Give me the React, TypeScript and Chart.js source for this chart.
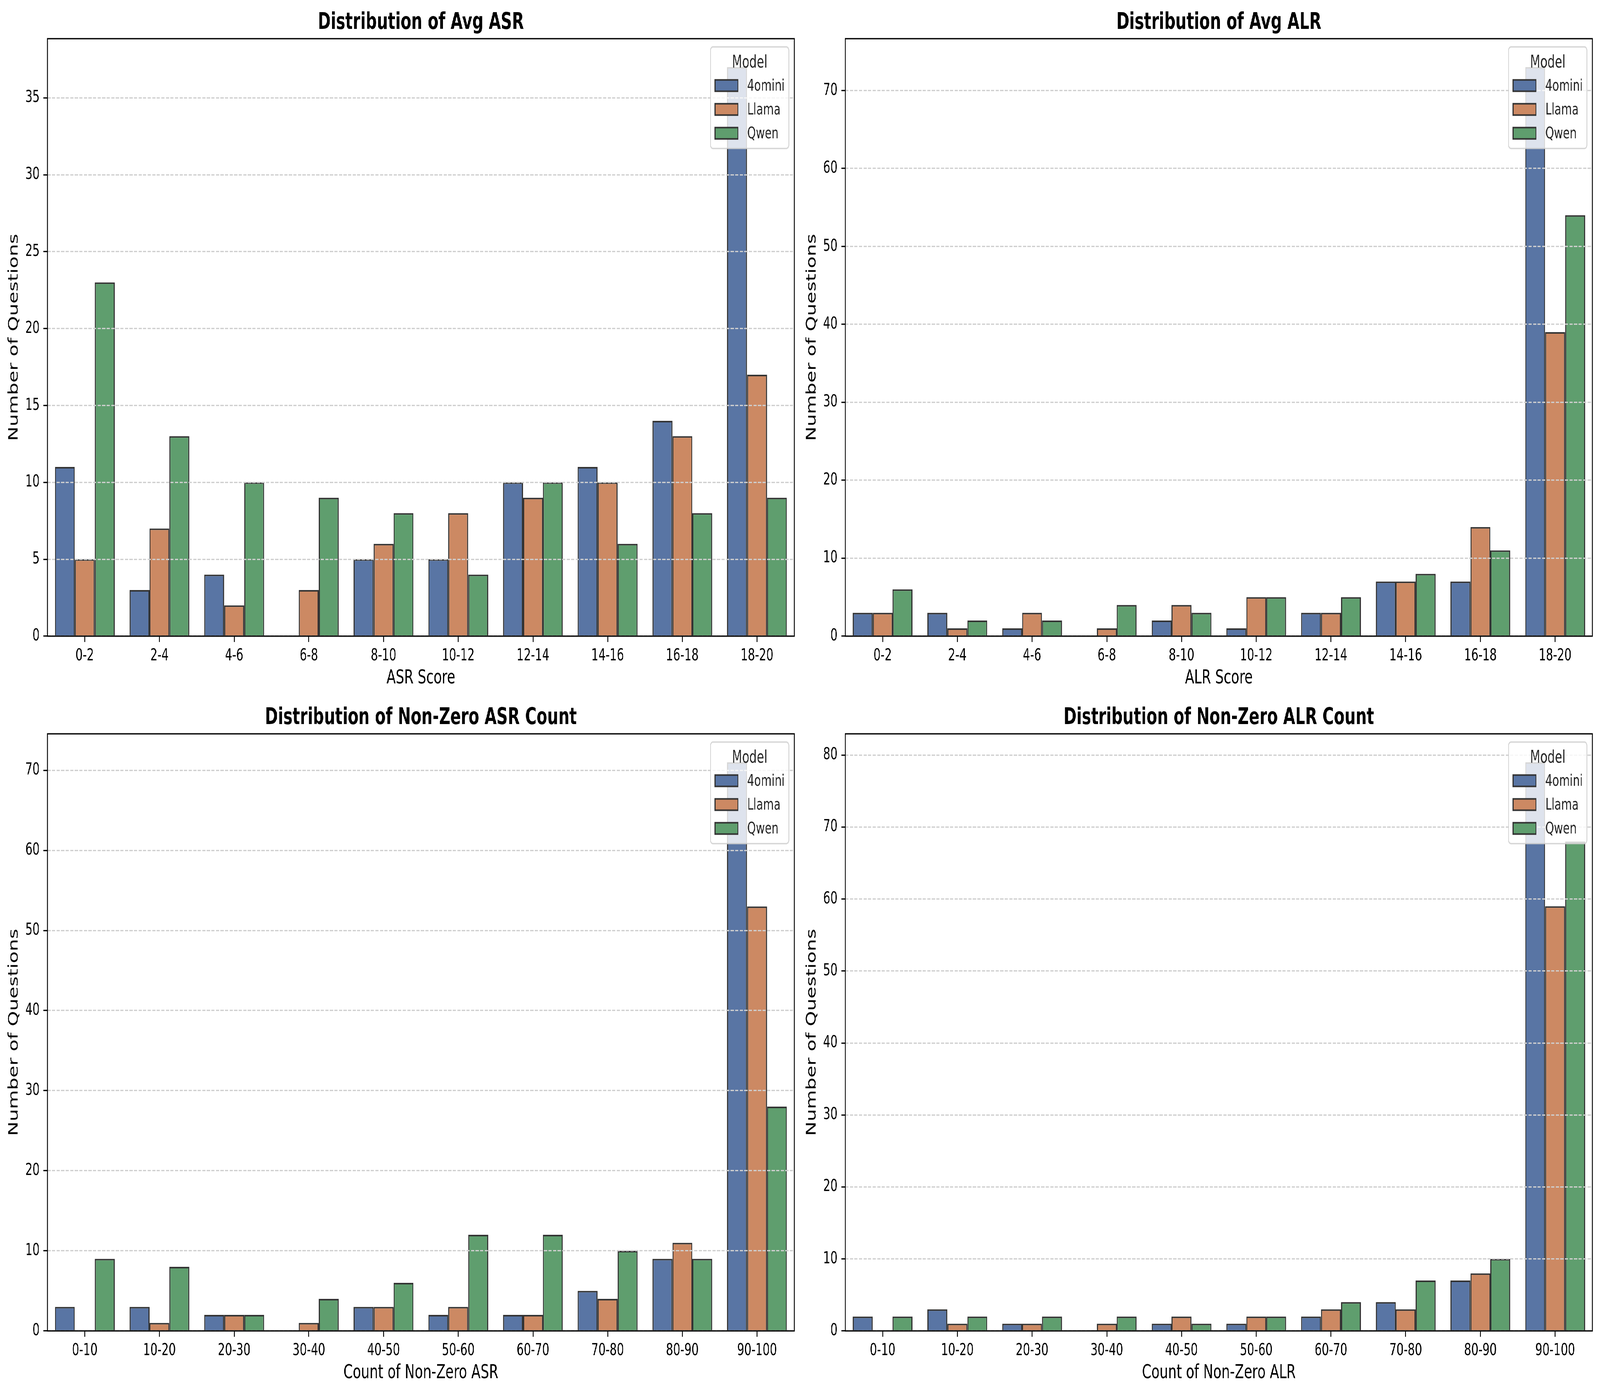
import React, { useEffect, useRef } from "react";
import { Chart, registerables } from "chart.js";

Chart.register(...registerables);

const FONT = '"DejaVu Sans", "Liberation Sans", sans-serif';

const MODELS = ["4omini", "Llama", "Qwen"];
const COLORS = ["#5975a4", "#cc8963", "#5f9e6e"];
const EDGE = "#333333";

const SCORE_BINS = ["0-2", "2-4", "4-6", "6-8", "8-10", "10-12", "12-14", "14-16", "16-18", "18-20"];
const COUNT_BINS = ["0-10", "10-20", "20-30", "30-40", "40-50", "50-60", "60-70", "70-80", "80-90", "90-100"];

// Distribution of Avg ASR
const avgAsr4omini = [11, 3, 4, 0, 5, 5, 10, 11, 14, 37];
const avgAsrLlama = [5, 7, 2, 3, 6, 8, 9, 10, 13, 17];
const avgAsrQwen = [23, 13, 10, 9, 8, 4, 10, 6, 8, 9];

// Distribution of Avg ALR
const avgAlr4omini = [3, 3, 1, 0, 2, 1, 3, 7, 7, 73];
const avgAlrLlama = [3, 1, 3, 1, 4, 5, 3, 7, 14, 39];
const avgAlrQwen = [6, 2, 2, 4, 3, 5, 5, 8, 11, 54];

// Distribution of Non-Zero ASR Count
const nzAsr4omini = [3, 3, 2, 0, 3, 2, 2, 5, 9, 71];
const nzAsrLlama = [0, 1, 2, 1, 3, 3, 2, 4, 11, 53];
const nzAsrQwen = [9, 8, 2, 4, 6, 12, 12, 10, 9, 28];

// Distribution of Non-Zero ALR Count
const nzAlr4omini = [2, 3, 1, 0, 1, 1, 2, 4, 7, 79];
const nzAlrLlama = [0, 1, 1, 1, 2, 2, 3, 3, 8, 59];
const nzAlrQwen = [2, 2, 2, 2, 1, 2, 4, 7, 10, 68];

const TITLES = [
  "Distribution of Avg ASR",
  "Distribution of Avg ALR",
  "Distribution of Non-Zero ASR Count",
  "Distribution of Non-Zero ALR Count",
];
const X_LABELS = ["ASR Score", "ALR Score", "Count of Non-Zero ASR", "Count of Non-Zero ALR"];
const Y_LABEL = "Number of Questions";
const Y_STEPS = [5, 10, 10, 10];

const PANEL_SERIES = [
  [avgAsr4omini, avgAsrLlama, avgAsrQwen],
  [avgAlr4omini, avgAlrLlama, avgAlrQwen],
  [nzAsr4omini, nzAsrLlama, nzAsrQwen],
  [nzAlr4omini, nzAlrLlama, nzAlrQwen],
];
const PANEL_BINS = [SCORE_BINS, SCORE_BINS, COUNT_BINS, COUNT_BINS];

// design size of the figure
const FIG_W = 5972;
const FIG_H = 3570;

// axes rectangles in figure pixels [left, top, right, bottom]
const AXES = [
  [177, 99, 2965, 1628],
  [3155, 99, 5944, 1628],
  [177, 1878, 2965, 3406],
  [3155, 1878, 5944, 3406],
];
const Y_AXIS_W = 177;
const TOP_SPACE = 99;
const RIGHT_SPACE = 20;
const BOTTOM_SPACE = 150;

const LW = 3.3;

function roundRectPath(ctx: CanvasRenderingContext2D, x: number, y: number, w: number, h: number, r: number) {
  ctx.beginPath();
  ctx.moveTo(x + r, y);
  ctx.lineTo(x + w - r, y);
  ctx.arcTo(x + w, y, x + w, y + r, r);
  ctx.lineTo(x + w, y + h - r);
  ctx.arcTo(x + w, y + h, x + w - r, y + h, r);
  ctx.lineTo(x + r, y + h);
  ctx.arcTo(x, y + h, x, y + h - r, r);
  ctx.lineTo(x, y + r);
  ctx.arcTo(x, y, x + r, y, r);
  ctx.closePath();
}

function makeDecorPlugin(title: string) {
  return {
    id: "mplDecor",
    afterDraw(chart: any) {
      const ctx: CanvasRenderingContext2D = chart.ctx;
      const ca = chart.chartArea;
      ctx.save();
      // frame (spines)
      ctx.strokeStyle = "#000";
      ctx.lineWidth = LW;
      ctx.setLineDash([]);
      ctx.strokeRect(ca.left, ca.top, ca.right - ca.left, ca.bottom - ca.top);

      // title
      ctx.fillStyle = "#000";
      ctx.font = `bold 58px ${FONT}`;
      ctx.textAlign = "center";
      ctx.textBaseline = "alphabetic";
      ctx.fillText(title, (ca.left + ca.right) / 2, ca.top - 25);

      // legend (upper right, inside axes)
      const w = 292;
      const h = 260;
      const L = ca.right - 21 - w;
      const T = ca.top + 21;
      roundRectPath(ctx, L, T, w, h, 9);
      ctx.fillStyle = "rgba(255,255,255,0.8)";
      ctx.fill();
      ctx.strokeStyle = "rgba(204,204,204,0.8)";
      ctx.lineWidth = 3.5;
      ctx.stroke();

      ctx.fillStyle = "#262626";
      ctx.font = `44px ${FONT}`;
      ctx.textAlign = "center";
      ctx.fillText("Model", L + w / 2, T + 53);

      ctx.textAlign = "left";
      ctx.textBaseline = "middle";
      ctx.font = `41px ${FONT}`;
      MODELS.forEach((m, i) => {
        const cy = T + 99 + i * 61;
        ctx.fillStyle = COLORS[i];
        ctx.fillRect(L + 17, cy - 14.5, 85, 29);
        ctx.strokeStyle = EDGE;
        ctx.lineWidth = 4;
        ctx.strokeRect(L + 17, cy - 14.5, 85, 29);
        ctx.fillStyle = "#262626";
        ctx.fillText(m, L + 137, cy + 2);
      });
      ctx.restore();
    },
  };
}

function Panel({ idx }: { idx: number }) {
  const ref = useRef<HTMLCanvasElement | null>(null);
  const [axL, axT, axR, axB] = AXES[idx];
  const width = axR - axL + Y_AXIS_W + RIGHT_SPACE;
  const height = axB - axT + TOP_SPACE + BOTTOM_SPACE;
  const left = axL - Y_AXIS_W;
  const top = axT - TOP_SPACE;

  useEffect(() => {
    const canvas = ref.current;
    if (!canvas) return;
    const series = PANEL_SERIES[idx];
    const maxVal = Math.max(...series.flat());
    const chart = new Chart(canvas, {
      type: "bar",
      data: {
        labels: PANEL_BINS[idx],
        datasets: MODELS.map((m, i) => ({
          label: m,
          data: series[i],
          backgroundColor: COLORS[i],
          borderColor: EDGE,
          borderWidth: 4,
          borderSkipped: "start",
          categoryPercentage: 0.8,
          barPercentage: 1.0,
        })),
      },
      options: {
        responsive: false,
        animation: false,
        devicePixelRatio: 1,
        layout: { padding: { top: TOP_SPACE, right: RIGHT_SPACE, left: 0, bottom: 0 } },
        plugins: {
          legend: { display: false },
          title: { display: false },
          tooltip: { enabled: false },
        },
        scales: {
          x: {
            type: "category",
            offset: true,
            afterFit: (s: any) => {
              s.height = BOTTOM_SPACE;
            },
            grid: {
              display: true,
              drawOnChartArea: false,
              drawTicks: true,
              tickLength: 15,
              tickColor: "#000",
              tickWidth: LW,
              offset: false,
            },
            border: { display: false },
            ticks: {
              color: "#000",
              font: { family: FONT, size: 42 },
              padding: 11,
              maxRotation: 0,
              autoSkip: false,
            },
            title: {
              display: true,
              text: X_LABELS[idx],
              color: "#000",
              font: { family: FONT, size: 50 },
              padding: { top: 0, bottom: 12 },
            },
          },
          y: {
            type: "linear",
            min: 0,
            max: maxVal * 1.05,
            afterFit: (s: any) => {
              s.width = Y_AXIS_W;
            },
            grid: {
              color: "#cfcfcf",
              lineWidth: LW,
              z: 1,
              drawTicks: true,
              tickLength: 15,
              tickColor: "#000",
              tickWidth: LW,
              tickBorderDash: [],
            },
            border: { display: false, dash: [12, 5] },
            ticks: {
              stepSize: Y_STEPS[idx],
              includeBounds: false,
              color: "#000",
              font: { family: FONT, size: 42 },
              padding: 14,
            },
            title: {
              display: true,
              text: Y_LABEL,
              color: "#000",
              font: { family: FONT, size: 50 },
              padding: { top: 23, bottom: 0 },
            },
          },
        },
      } as any,
      plugins: [makeDecorPlugin(TITLES[idx])],
    });
    return () => chart.destroy();
  }, [idx]);

  return (
    <canvas
      ref={ref}
      width={width}
      height={height}
      style={{ position: "absolute", left, top, width, height }}
    />
  );
}

export default function App() {
  // the browser viewport may be narrower than the design size; squash the
  // whole figure to fill it exactly, as an image resize would
  const vw = typeof window !== "undefined" ? window.innerWidth : FIG_W;
  const vh = typeof window !== "undefined" ? window.innerHeight : FIG_H;
  const sx = Math.min(1, vw / FIG_W);
  const sy = Math.min(1, vh / FIG_H);
  return (
    <div
      style={{
        position: "absolute",
        left: 0,
        top: 0,
        width: FIG_W * sx,
        height: FIG_H * sy,
        overflow: "hidden",
        background: "#fff",
      }}
    >
      <div
        style={{
          position: "absolute",
          left: 0,
          top: 0,
          width: FIG_W,
          height: FIG_H,
          background: "#fff",
          transform: `scale(${sx}, ${sy})`,
          transformOrigin: "0 0",
        }}
      >
        {[0, 1, 2, 3].map((i) => (
          <Panel key={i} idx={i} />
        ))}
      </div>
    </div>
  );
}
